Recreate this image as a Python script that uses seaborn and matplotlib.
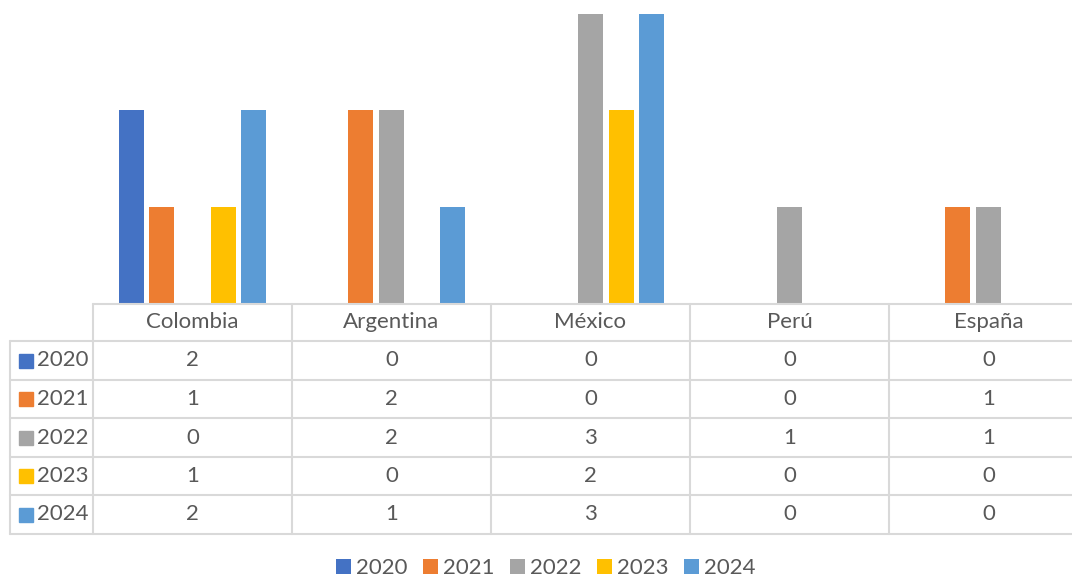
import matplotlib
matplotlib.use("Agg")
import matplotlib.pyplot as plt
from matplotlib.lines import Line2D
from matplotlib.patches import Patch, Rectangle
import pandas as pd
import seaborn as sns

countries = ["Colombia", "Argentina", "México", "Perú", "España"]
years = ["2020", "2021", "2022", "2023", "2024"]
v2020 = [2, 0, 0, 0, 0]
v2021 = [1, 2, 0, 0, 1]
v2022 = [0, 2, 3, 1, 1]
v2023 = [1, 0, 2, 0, 0]
v2024 = [2, 1, 3, 0, 0]
colors = ["#4472C4", "#ED7D31", "#A5A5A5", "#FFC000", "#5B9BD5"]

series = [v2020, v2021, v2022, v2023, v2024]
df = pd.DataFrame(
    [(c, y, v) for y, vals in zip(years, series) for c, v in zip(countries, vals)],
    columns=["country", "year", "value"],
)

W, H = 1072, 577
sns.set_theme(style="white")
plt.rcParams["font.family"] = ["Lato", "DejaVu Sans"]
TXT = "#595959"
GRID = "#D9D9D9"
FS = 16

fig = plt.figure(figsize=(W / 100, H / 100), dpi=100)

# table / plot geometry in pixels
x0, col_w = 93, 199
base_y, top_y = 304, 13.5
row_edges = [304, 341, 380, 418, 457, 495, 534]
left_x = 10


def fx(x):
    return x / W


def fy(y):
    return 1 - y / H


ax = fig.add_axes([fx(x0), fy(base_y), (col_w * 5) / W, (base_y - top_y) / H])
sns.barplot(data=df, x="country", y="value", hue="year", palette=colors, saturation=1,
            width=0.77, gap=0.18, linewidth=0, legend=False, ax=ax)
ax.set_ylim(0, 3)
ax.set_xlim(-0.5, 4.5)
ax.set_axis_off()

# table grid
lw = 1.5
for i, y in enumerate(row_edges):
    xs = x0 if i == 0 else left_x
    fig.add_artist(Line2D([fx(xs), 1], [fy(y), fy(y)], color=GRID, lw=lw))
for k in range(5):
    xv = x0 + k * col_w
    fig.add_artist(Line2D([fx(xv), fx(xv)], [fy(row_edges[0]), fy(row_edges[-1])], color=GRID, lw=lw))
fig.add_artist(Line2D([fx(left_x), fx(left_x)], [fy(row_edges[1]), fy(row_edges[-1])], color=GRID, lw=lw))

# header
for k, c in enumerate(countries):
    cx = x0 + (k + 0.5) * col_w
    cy = (row_edges[0] + row_edges[1]) / 2
    fig.text(fx(cx), fy(cy), c, ha="center", va="center", fontsize=FS, color=TXT)

# rows
for r, (yr, vals, col) in enumerate(zip(years, series, colors)):
    cy = (row_edges[r + 1] + row_edges[r + 2]) / 2
    fig.add_artist(Rectangle((fx(19), fy(cy + 7)), 14 / W, 14 / H, color=col, transform=fig.transFigure))
    fig.text(fx(37), fy(cy), yr, ha="left", va="center", fontsize=FS, color=TXT)
    for k, v in enumerate(vals):
        cx = x0 + (k + 0.5) * col_w
        fig.text(fx(cx), fy(cy), str(v), ha="center", va="center", fontsize=FS, color=TXT)

handles = [Patch(facecolor=c, edgecolor="none") for c in colors]
fig.legend(handles, years, loc="center", bbox_to_anchor=(fx(546), fy(568)), ncol=5,
           frameon=False, fontsize=FS, labelcolor=TXT, handlelength=0.65, handleheight=0.65,
           handletextpad=0.25, columnspacing=0.7, borderpad=0)

fig.savefig("out.png", dpi=100)
